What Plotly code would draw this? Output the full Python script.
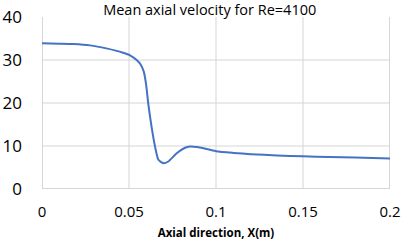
import plotly.graph_objects as go

x_m = [0.0, 0.01, 0.018, 0.0276, 0.037, 0.0466, 0.0506, 0.0544, 0.0566, 0.0585, 0.0598,
       0.0611, 0.0630, 0.0650, 0.0669, 0.0697, 0.0726, 0.0774, 0.0822, 0.085, 0.09,
       0.1, 0.11, 0.12, 0.135, 0.15, 0.165, 0.18, 0.19, 0.2]
velocity = [33.9, 33.8, 33.7, 33.4, 32.7, 31.7, 31.1, 30.0, 29.0, 27.3, 24.4,
            19.8, 14.4, 9.8, 6.8, 6.0, 6.4, 8.3, 9.6, 9.9, 9.7,
            8.8, 8.4, 8.1, 7.8, 7.6, 7.45, 7.3, 7.2, 7.1]

x_ticks = [0, 0.05, 0.1, 0.15, 0.2]
y_ticks = [0, 10, 20, 30, 40]

title_text = "Mean axial velocity for Re=4100"
x_title = "<b>Axial direction, X(m)</b>"

W, H = 401, 249
ML, MR, MT, MB = 42, 11, 17, 60
plot_w = W - ML - MR
plot_h = H - MT - MB

fig = go.Figure()
fig.add_trace(go.Scatter(x=x_m, y=velocity, mode="lines",
                         line=dict(color="#4472C4", width=2, shape="spline", smoothing=0.6),
                         showlegend=False))

grid = "#D6D6D6"
xmin, xmax = x_ticks[0], x_ticks[-1]
ymin, ymax = y_ticks[0], y_ticks[-1]
px_x = (xmax - xmin) / plot_w   # one pixel in x data units
px_y = (ymax - ymin) / plot_h   # one pixel in y data units

# gridlines drawn as 1-px-wide filled rectangles at the tick values
for v in x_ticks:
    x0 = min(max(v - px_x / 2, xmin), xmax - px_x)
    fig.add_shape(type="rect", xref="x", yref="y", x0=x0, x1=x0 + px_x, y0=ymin, y1=ymax,
                  fillcolor=grid, line=dict(width=0), layer="below")
for v in y_ticks[:-1]:
    y0 = min(max(v - px_y / 2, ymin), ymax - px_y)
    fig.add_shape(type="rect", xref="x", yref="y", x0=xmin, x1=xmax, y0=y0, y1=y0 + px_y,
                  fillcolor=grid, line=dict(width=0), layer="below")

fig.update_layout(
    template="none",
    width=W, height=H,
    margin=dict(l=ML, r=MR, t=MT, b=MB),
    paper_bgcolor="white", plot_bgcolor="white",
    font=dict(family="Open Sans, Liberation Sans, sans-serif", color="#000000"),
    title=dict(text=title_text, x=0.523, xanchor="center", y=0.982, yanchor="top",
               font=dict(size=14.5, color="#000000")),
)
fig.update_xaxes(range=[xmin, xmax], tickvals=x_ticks, showgrid=False,
                 showline=False, zeroline=False, automargin=False,
                 ticks="", ticklabelstandoff=12, tickfont=dict(size=15),
                 title=dict(text=x_title, font=dict(size=11.5), standoff=8))
fig.update_yaxes(range=[ymin, ymax], tickvals=y_ticks, showgrid=False,
                 showline=False, zeroline=False, automargin=False,
                 ticks="", ticklabelstandoff=19, tickfont=dict(size=17))

fig.write_html("out.html", config={"displayModeBar": False},
               post_script="document.body.style.margin='0';document.body.style.overflow='hidden';")
